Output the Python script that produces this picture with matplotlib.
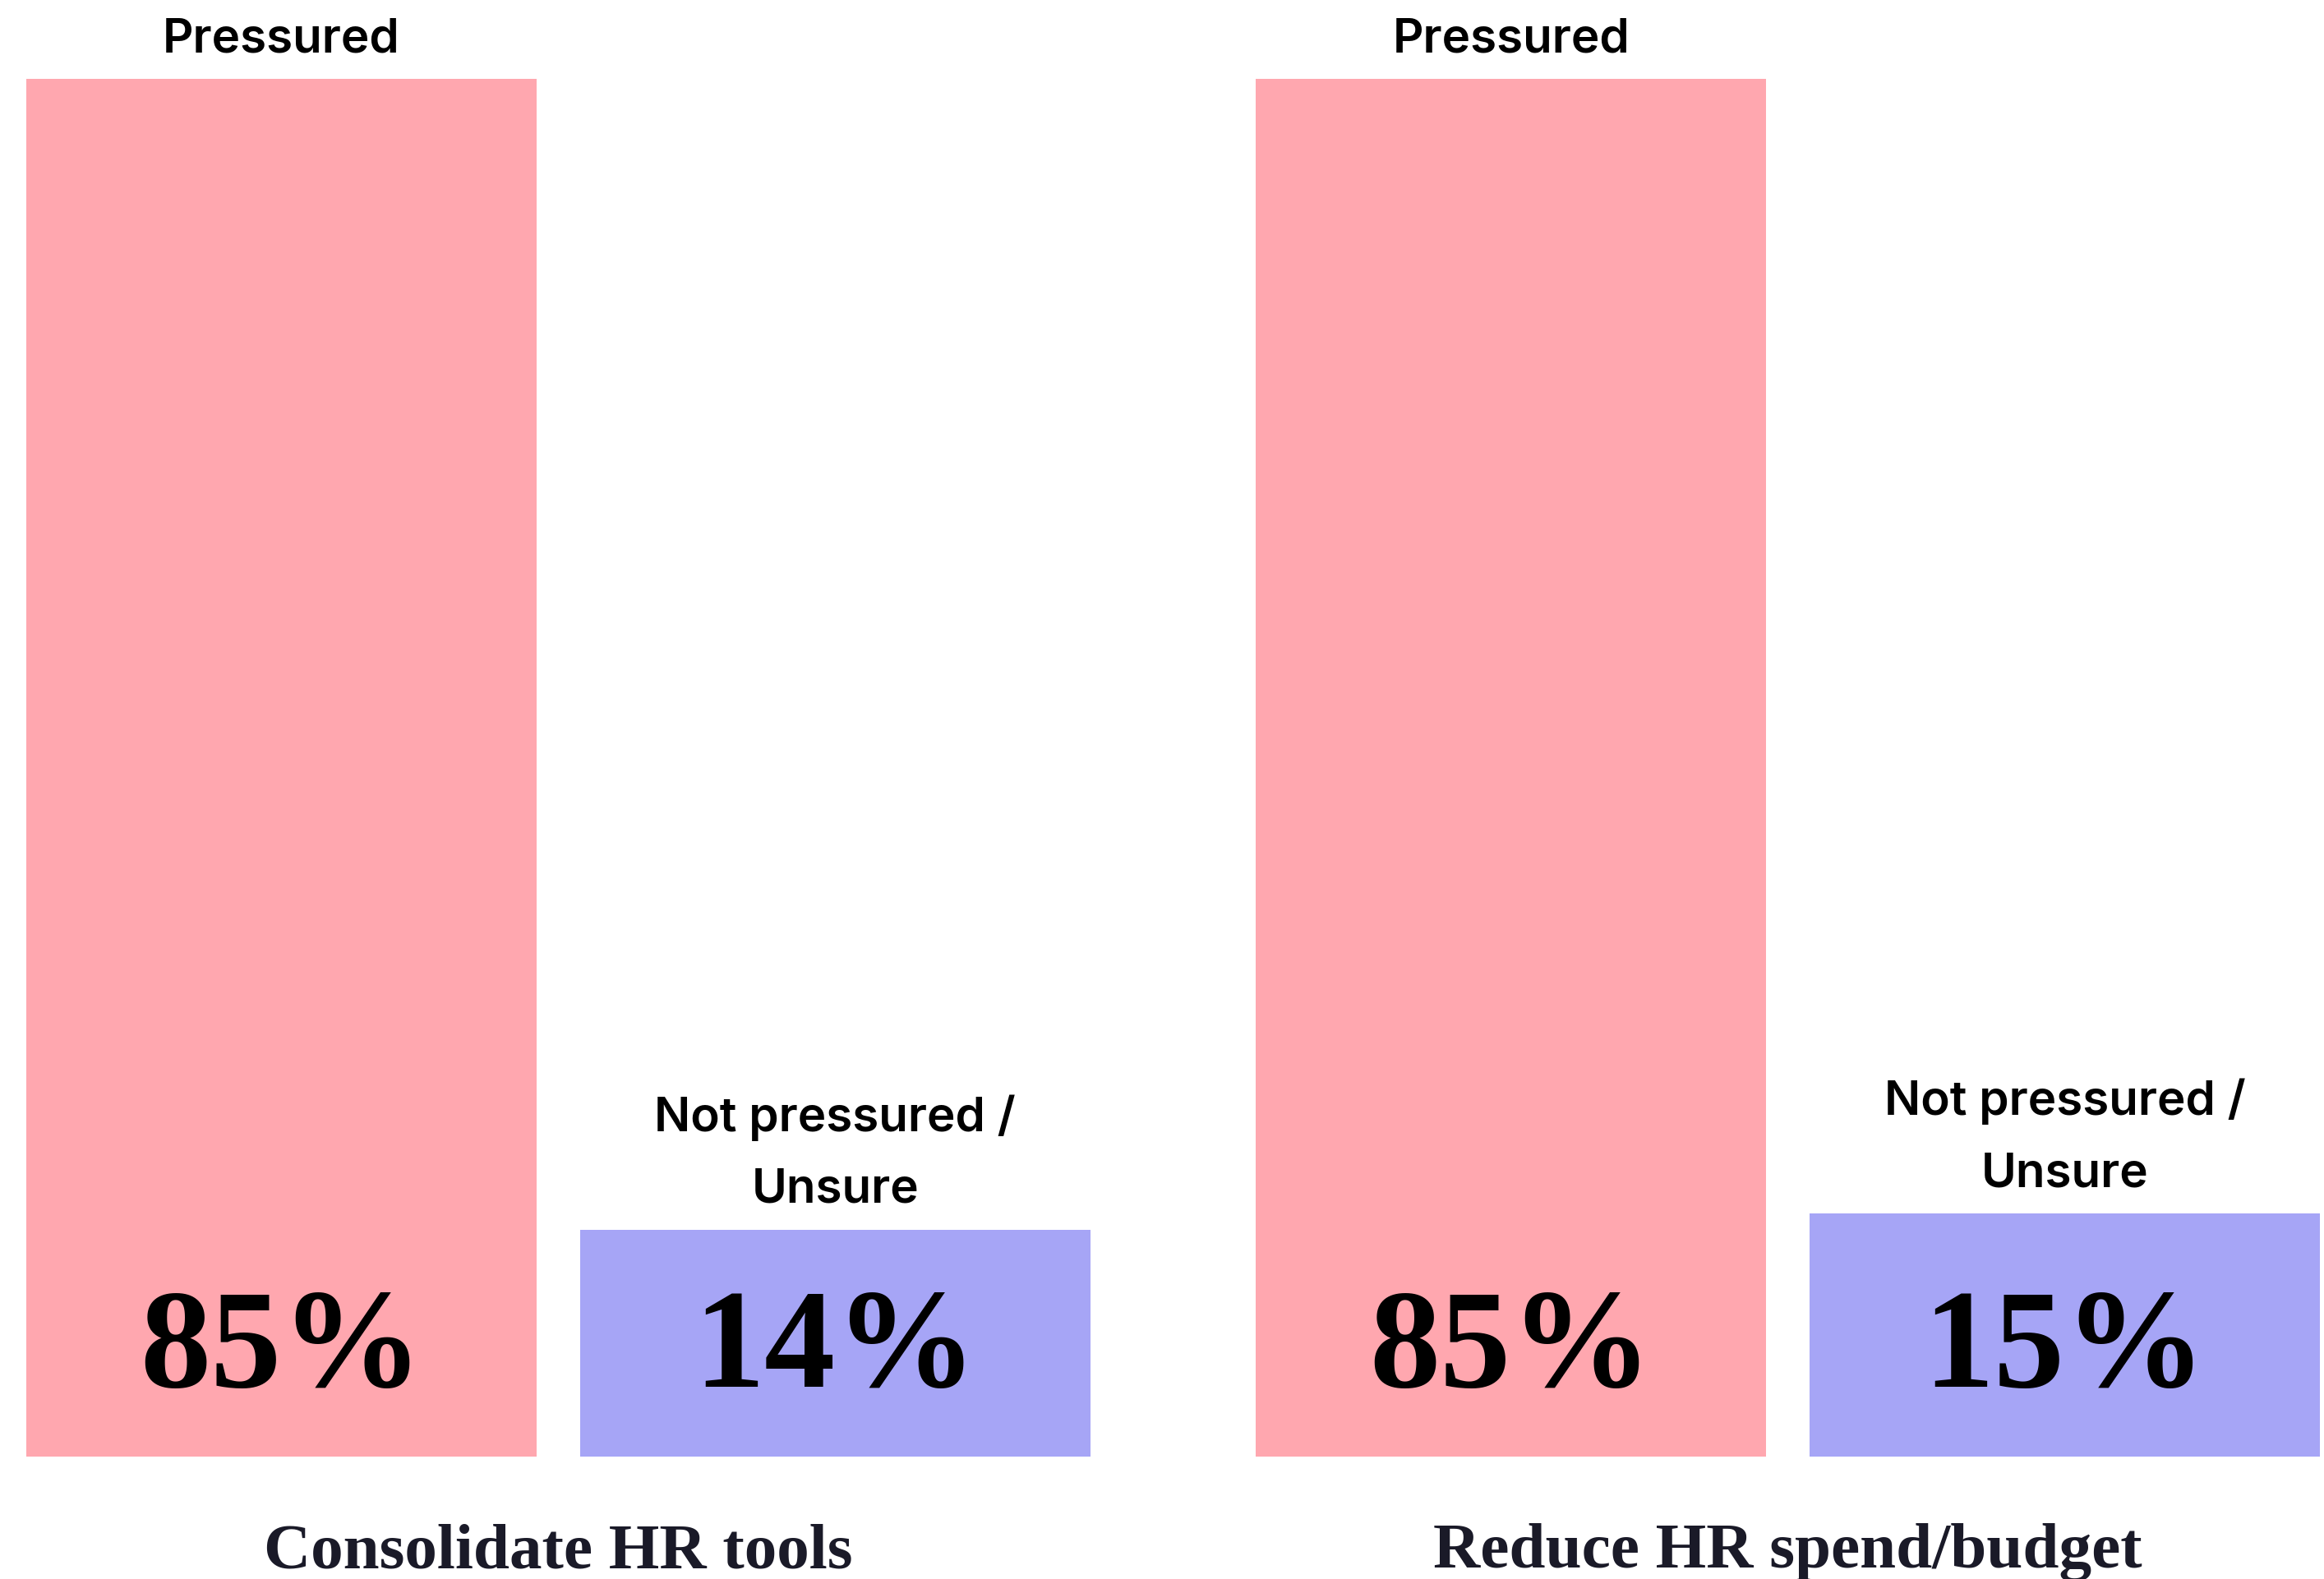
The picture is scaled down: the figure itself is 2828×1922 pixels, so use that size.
import matplotlib
matplotlib.use("Agg")
import matplotlib.pyplot as plt

# Survey shares, two questions, two answers each
categories = ["Consolidate HR tools", "Reduce HR spend/budget"]
answers = ["Pressured", "Not pressured /\nUnsure"]
pressured = [85, 85]
not_pressured = [14, 15]

pink = "#FFA7AF"
blue = "#A6A5F6"

fig = plt.figure(figsize=(28.28, 19.22), dpi=100)
W, H = 2828, 1922
ax = fig.add_axes([32 / W, (H - 1773) / H, (2823 - 32) / W, (1773 - 96) / H])
ax.set_xlim(0, 4.495)
ax.set_ylim(0, 85)
ax.axis("off")

group_x = [0.5, 2.91]
step = 1.085

for i, cat in enumerate(categories):
    x0 = group_x[i]
    x1 = x0 + step
    vals = [pressured[i], not_pressured[i]]
    ax.bar([x0, x1], vals, width=1.0, color=[pink, blue], linewidth=0)
    for x, v, lab in zip([x0, x1], vals, answers):
        ax.annotate(lab, (x, v), xytext=(0, 15), textcoords="offset points",
                    ha="center", va="bottom", fontsize=42, fontfamily="Inter",
                    fontweight="semibold", color="black", linespacing=1.78,
                    annotation_clip=False)
        ax.text(x, 6.4, f"{v}%", ha="center", va="center", fontsize=124,
                fontfamily=["Liberation Serif"], fontweight="bold", color="black")
    ax.annotate(cat, ((x0 + x1) / 2, 0), xytext=(0, -84), textcoords="offset points",
                ha="center", va="center", fontsize=57, fontfamily=["Liberation Serif"],
                fontweight="bold", color="#1A1A28",
                annotation_clip=False)

fig.savefig("out.png", dpi=100, facecolor="white")
